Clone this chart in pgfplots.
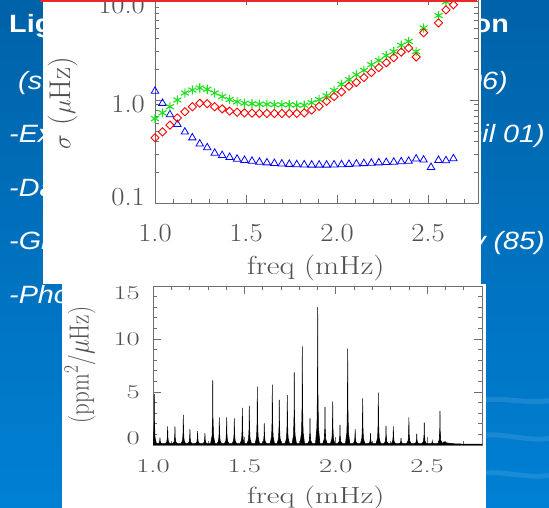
\documentclass[border=0pt]{standalone}
\usepackage{fontspec}
\usepackage{graphicx}
\usepackage{pgfplots}
\pgfplotsset{compat=1.18}
\usepackage{pgfplotstable}
\newfontfamily\slidefont{Liberation Sans}
\definecolor{bgtop}{RGB}{0,98,168}
\definecolor{bgbot}{RGB}{0,128,212}
\definecolor{axgray}{RGB}{110,110,110}
\definecolor{txtgray}{RGB}{80,80,80}
\definecolor{mgreen}{RGB}{30,225,30}
\definecolor{slidered}{RGB}{235,40,40}
\newcommand{\tlA}[1]{\scalebox{1.1}[1]{#1}}
\newcommand{\tlB}[1]{\scalebox{1.1}[0.75]{#1}}
\newcommand{\sw}[1]{\scalebox{1.15}[1]{#1}}

\pgfplotstableread{
f s
1.000 1.22
1.041 0.93
1.082 0.72
1.123 0.58
1.164 0.49
1.205 0.43
1.246 0.375
1.287 0.345
1.328 0.305
1.369 0.29
1.410 0.278
1.451 0.267
1.492 0.26
1.533 0.255
1.574 0.25
1.615 0.246
1.656 0.243
1.697 0.24
1.738 0.238
1.779 0.236
1.820 0.235
1.861 0.234
1.902 0.234
1.943 0.234
1.984 0.235
2.025 0.236
2.066 0.238
2.107 0.24
2.148 0.242
2.189 0.244
2.230 0.246
2.271 0.248
2.312 0.25
2.353 0.252
2.394 0.255
2.435 0.268
2.476 0.262
2.517 0.222
2.558 0.26
2.599 0.258
2.640 0.27
}\bluedata

\pgfplotstableread{
f s
1.000 0.66
1.041 0.75
1.082 0.86
1.123 1.00
1.164 1.17
1.205 1.25
1.246 1.31
1.287 1.27
1.328 1.17
1.369 1.08
1.410 1.01
1.451 0.96
1.492 0.93
1.533 0.92
1.574 0.91
1.615 0.91
1.656 0.90
1.697 0.90
1.738 0.90
1.779 0.89
1.820 0.89
1.861 0.94
1.902 1.01
1.943 1.10
1.984 1.24
2.025 1.42
2.066 1.58
2.107 1.76
2.148 1.94
2.189 2.20
2.230 2.42
2.271 2.70
2.312 2.95
2.353 3.40
2.394 3.70
2.435 2.95
2.476 5.0
2.558 6.6
2.599 9.0
2.640 10.4
}\greendata

\pgfplotstableread{
f s
1.000 0.43
1.041 0.49
1.082 0.57
1.123 0.67
1.164 0.77
1.205 0.86
1.246 0.93
1.287 0.92
1.328 0.86
1.369 0.82
1.410 0.78
1.451 0.76
1.492 0.75
1.533 0.745
1.574 0.74
1.615 0.74
1.656 0.74
1.697 0.74
1.738 0.74
1.779 0.74
1.820 0.75
1.861 0.80
1.902 0.87
1.943 0.97
1.984 1.08
2.025 1.20
2.066 1.36
2.107 1.48
2.148 1.65
2.189 1.85
2.230 2.06
2.271 2.30
2.312 2.58
2.353 2.92
2.394 3.20
2.435 2.62
2.476 4.5
2.558 5.6
2.599 7.5
2.640 8.4
}\reddata

\begin{document}
\begin{tikzpicture}
\useasboundingbox (0pt,0pt) rectangle (549pt,508pt);
\clip (0pt,0pt) rectangle (549pt,508pt);
% slide background
\shade[top color=bgtop, bottom color=bgbot] (0pt,0pt) rectangle (549pt,508pt);
\begin{scope}[white, opacity=0.10, line width=5pt]
\draw (470pt,105pt) .. controls (500pt,115pt) and (530pt,100pt) .. (560pt,110pt);
\draw (470pt,70pt) .. controls (500pt,80pt) and (530pt,62pt) .. (560pt,72pt);
\draw (470pt,32pt) .. controls (500pt,42pt) and (530pt,25pt) .. (560pt,35pt);
\end{scope}
% slide text (partly hidden by the panels)
\begin{scope}[every node/.style={inner sep=0pt, text=white}]
\node[anchor=base west, font=\slidefont\bfseries\fontsize{25}{28}\selectfont] at (9pt,475pt) {\sw{Ligh}};
\node[anchor=base east, font=\slidefont\bfseries\fontsize{25}{28}\selectfont] at (509pt,475pt) {\sw{tion}};
\node[anchor=base west, font=\slidefont\itshape\fontsize{25}{28}\selectfont] at (18pt,418pt) {\sw{(se}};
\node[anchor=base east, font=\slidefont\itshape\fontsize{25}{28}\selectfont] at (508pt,418pt) {\sw{2006)}};
\node[anchor=base west, font=\slidefont\itshape\fontsize{25}{28}\selectfont] at (9pt,365pt) {\sw{-Exc}};
\node[anchor=base east, font=\slidefont\itshape\fontsize{25}{28}\selectfont] at (545pt,365pt) {\sw{Goupil 01)}};
\node[anchor=base west, font=\slidefont\itshape\fontsize{25}{28}\selectfont] at (9pt,311pt) {\sw{-Dat}};
\node[anchor=base west, font=\slidefont\itshape\fontsize{25}{28}\selectfont] at (9pt,258pt) {\sw{-Gr}};
\node[anchor=base east, font=\slidefont\itshape\fontsize{25}{28}\selectfont] at (545pt,258pt) {\sw{ey (85)}};
\node[anchor=base west, font=\slidefont\itshape\fontsize{25}{28}\selectfont] at (9pt,204pt) {\sw{-Phot}};
\end{scope}
% top panel
\fill[white] (43pt,224pt) rectangle (481pt,508pt);
\begin{axis}[
  at={(155pt,305pt)}, anchor=south west, scale only axis,
  width=323pt, height=206pt,
  xmin=1, xmax=2.775, ymode=log, ymin=0.1, ymax=10,
  xtick={1,1.5,2,2.5}, xticklabels={\tlA{1.0},\tlA{1.5},\tlA{2.0},\tlA{2.5}},
  minor xtick={1.1,1.2,1.3,1.4,1.6,1.7,1.8,1.9,2.1,2.2,2.3,2.4,2.6,2.7},
  ytick={0.1,1,10},
  yticklabels={{\tlA{0.1}\rule[-12pt]{0pt}{12pt}},{\tlA{1.0}\rule{0pt}{24.7pt}},{\tlA{10.0}\rule{0pt}{33pt}}},
  minor ytick={0.2,0.3,0.4,0.5,0.6,0.7,0.8,0.9,2,3,4,5,6,7,8,9},
  tick align=inside, major tick length=8pt, minor tick length=4pt,
  tick style={axgray, line width=0.6pt},
  axis line style={axgray, line width=0.7pt},
  tick label style={font=\fontsize{26}{28}\selectfont, text=txtgray, inner sep=0pt},
  xticklabel style={anchor=base, yshift=-39pt},
  yticklabel style={anchor=east, xshift=-10pt},
  xlabel={\scalebox{1.2}[1]{freq (mHz)}},
  xlabel style={at={(axis description cs:0.498,-0.345)}, anchor=base, inner sep=0pt, text=txtgray, font=\fontsize{26}{28}\selectfont},
  ylabel={$\sigma$ ($\mu$Hz)},
  ylabel style={at={(axis description cs:-0.285,0.485)}, anchor=center, inner sep=0pt, text=txtgray, font=\fontsize{30}{32}\selectfont},
]
\addplot[only marks, mark=triangle, mark size=4.3pt, blue, mark options={line width=0.8pt}] table[x=f, y=s] {\bluedata};
\addplot[only marks, mark=asterisk, mark size=4.6pt, mgreen, mark options={line width=1.1pt}] table[x=f, y=s] {\greendata};
\addplot[only marks, mark=square, mark size=2.9pt, red, mark options={rotate=45, line width=0.9pt}] table[x=f, y=s] {\reddata};
\end{axis}
% lower panel
\fill[white] (62pt,0pt) rectangle (486pt,224pt);
\begin{axis}[
  at={(153pt,63pt)}, anchor=south west, scale only axis,
  width=329pt, height=159pt,
  xmin=1, xmax=2.8, ymin=0, ymax=15,
  xtick={1,1.5,2,2.5}, xticklabels={\tlB{1.0},\tlB{1.5},\tlB{2.0},\tlB{2.5}},
  minor xtick={1.1,1.2,1.3,1.4,1.6,1.7,1.8,1.9,2.1,2.2,2.3,2.4,2.6,2.7},
  ytick={0,5,10,15},
  yticklabels={{\tlB{0}\rule[-14pt]{0pt}{14pt}},\tlB{5},\tlB{10},{\tlB{15}\rule{0pt}{26.5pt}}},
  minor ytick={1,2,3,4,6,7,8,9,11,12,13,14},
  tick align=inside, major tick length=8pt, minor tick length=4pt,
  tick style={axgray, line width=0.6pt},
  axis line style={axgray, line width=0.7pt},
  tick label style={font=\fontsize{26}{28}\selectfont, text=txtgray, inner sep=0pt},
  xticklabel style={anchor=base, yshift=-28pt},
  yticklabel style={anchor=east, xshift=-13pt},
  xlabel={\scalebox{1.2}[0.9]{freq (mHz)}},
  xlabel style={at={(axis description cs:0.495,-0.371)}, anchor=base, inner sep=0pt, text=txtgray, font=\fontsize{26}{28}\selectfont},
  ylabel={\scalebox{1}[1.2]{(ppm$^2$/$\mu$Hz)}},
  ylabel style={at={(axis description cs:-0.222,0.503)}, anchor=center, inner sep=0pt, text=txtgray, font=\fontsize{23}{25}\selectfont},
]
\addplot[black, line width=0.6pt, fill=black] coordinates {
(0.995,0.12)(1.003,0.68)(1.006,2.02)(1.007,4.8)(1.008,2.02)(1.011,0.68)(1.019,0.12)
(1.026,0.12)(1.034,0.18)(1.037,0.38)(1.038,0.7)(1.039,0.38)(1.042,0.18)(1.050,0.12)
(1.068,0.12)(1.076,0.31)(1.079,0.80)(1.080,1.75)(1.081,0.80)(1.084,0.31)(1.092,0.12)
(1.108,0.12)(1.116,0.31)(1.119,0.80)(1.120,1.75)(1.121,0.80)(1.124,0.31)(1.132,0.12)
(1.154,0.12)(1.162,0.44)(1.165,1.24)(1.166,2.85)(1.167,1.24)(1.170,0.44)(1.178,0.12)
(1.190,0.12)(1.198,0.28)(1.201,0.70)(1.202,1.5)(1.203,0.70)(1.206,0.28)(1.214,0.12)
(1.232,0.12)(1.240,0.26)(1.243,0.62)(1.244,1.3)(1.245,0.62)(1.248,0.26)(1.256,0.12)
(1.272,0.12)(1.280,0.24)(1.283,0.56)(1.284,1.15)(1.285,0.56)(1.288,0.24)(1.296,0.12)
(1.315,0.12)(1.323,0.83)(1.326,2.54)(1.327,6.1)(1.328,2.54)(1.331,0.83)(1.339,0.12)
(1.351,0.12)(1.359,0.41)(1.362,1.14)(1.363,2.6)(1.364,1.14)(1.367,0.41)(1.375,0.12)
(1.391,0.12)(1.399,0.41)(1.402,1.14)(1.403,2.6)(1.404,1.14)(1.407,0.41)(1.415,0.12)
(1.433,0.12)(1.441,0.40)(1.444,1.10)(1.445,2.5)(1.446,1.10)(1.449,0.40)(1.457,0.12)
(1.477,0.12)(1.485,0.52)(1.488,1.50)(1.489,3.5)(1.490,1.50)(1.493,0.52)(1.501,0.12)
(1.515,0.12)(1.523,0.54)(1.526,1.58)(1.527,3.7)(1.528,1.58)(1.531,0.54)(1.539,0.12)
(1.559,0.12)(1.567,0.76)(1.570,2.30)(1.571,5.5)(1.572,2.30)(1.575,0.76)(1.583,0.12)
(1.597,0.12)(1.605,0.35)(1.608,0.92)(1.609,2.05)(1.610,0.92)(1.613,0.35)(1.621,0.12)
(1.641,0.12)(1.649,0.78)(1.652,2.38)(1.653,5.7)(1.654,2.38)(1.657,0.78)(1.665,0.12)
(1.679,0.12)(1.687,0.61)(1.690,1.80)(1.691,4.25)(1.692,1.80)(1.695,0.61)(1.703,0.12)
(1.723,0.12)(1.731,0.66)(1.734,1.98)(1.735,4.7)(1.736,1.98)(1.739,0.66)(1.747,0.12)
(1.761,0.12)(1.769,0.92)(1.772,2.84)(1.773,6.85)(1.774,2.84)(1.777,0.92)(1.785,0.12)
(1.805,0.12)(1.813,1.22)(1.816,3.82)(1.817,9.3)(1.818,3.82)(1.821,1.22)(1.829,0.12)
(1.847,0.12)(1.855,0.40)(1.858,1.10)(1.859,2.5)(1.860,1.10)(1.863,0.40)(1.871,0.12)
(1.889,0.12)(1.897,1.66)(1.900,5.30)(1.901,13.0)(1.902,5.30)(1.905,1.66)(1.913,0.12)
(1.929,0.12)(1.937,0.53)(1.940,1.54)(1.941,3.6)(1.942,1.54)(1.945,0.53)(1.953,0.12)
(1.971,0.12)(1.979,0.59)(1.982,1.74)(1.983,4.1)(1.984,1.74)(1.987,0.59)(1.995,0.12)
(2.011,0.12)(2.019,0.33)(2.022,0.86)(2.023,1.9)(2.024,0.86)(2.027,0.33)(2.035,0.12)
(2.053,0.12)(2.061,1.19)(2.064,3.74)(2.065,9.1)(2.066,3.74)(2.069,1.19)(2.077,0.12)
(2.094,0.12)(2.102,0.28)(2.105,0.70)(2.106,1.5)(2.107,0.70)(2.110,0.28)(2.118,0.12)
(2.135,0.12)(2.143,0.63)(2.146,1.86)(2.147,4.4)(2.148,1.86)(2.151,0.63)(2.159,0.12)
(2.178,0.12)(2.186,0.23)(2.189,0.54)(2.190,1.1)(2.191,0.54)(2.194,0.23)(2.202,0.12)
(2.221,0.12)(2.229,0.69)(2.232,2.08)(2.233,4.95)(2.234,2.08)(2.237,0.69)(2.245,0.12)
(2.263,0.12)(2.271,0.32)(2.274,0.82)(2.275,1.8)(2.276,0.82)(2.279,0.32)(2.287,0.12)
(2.303,0.12)(2.311,0.31)(2.314,0.80)(2.315,1.75)(2.316,0.80)(2.319,0.31)(2.327,0.12)
(2.345,0.12)(2.353,0.18)(2.356,0.36)(2.357,0.65)(2.358,0.36)(2.361,0.18)(2.369,0.12)
(2.388,0.12)(2.396,0.41)(2.399,1.14)(2.400,2.6)(2.401,1.14)(2.404,0.41)(2.412,0.12)
(2.431,0.12)(2.439,0.23)(2.442,0.52)(2.443,1.05)(2.444,0.52)(2.447,0.23)(2.455,0.12)
(2.472,0.12)(2.480,0.35)(2.483,0.94)(2.484,2.1)(2.485,0.94)(2.488,0.35)(2.496,0.12)
(2.516,0.12)(2.524,0.14)(2.527,0.24)(2.528,0.35)(2.529,0.24)(2.532,0.14)(2.540,0.12)
(2.558,0.12)(2.566,0.48)(2.569,1.38)(2.570,3.2)(2.571,1.38)(2.574,0.48)(2.582,0.12)
(2.592,0.30)(2.605,0.20)(2.640,0.12)(2.700,0.08)(2.800,0.08)
} \closedcycle;
\end{axis}
% red line at the top of the upper panel
\fill[slidered] (40pt,505.5pt) rectangle (477pt,508pt);
\end{tikzpicture}
\end{document}
